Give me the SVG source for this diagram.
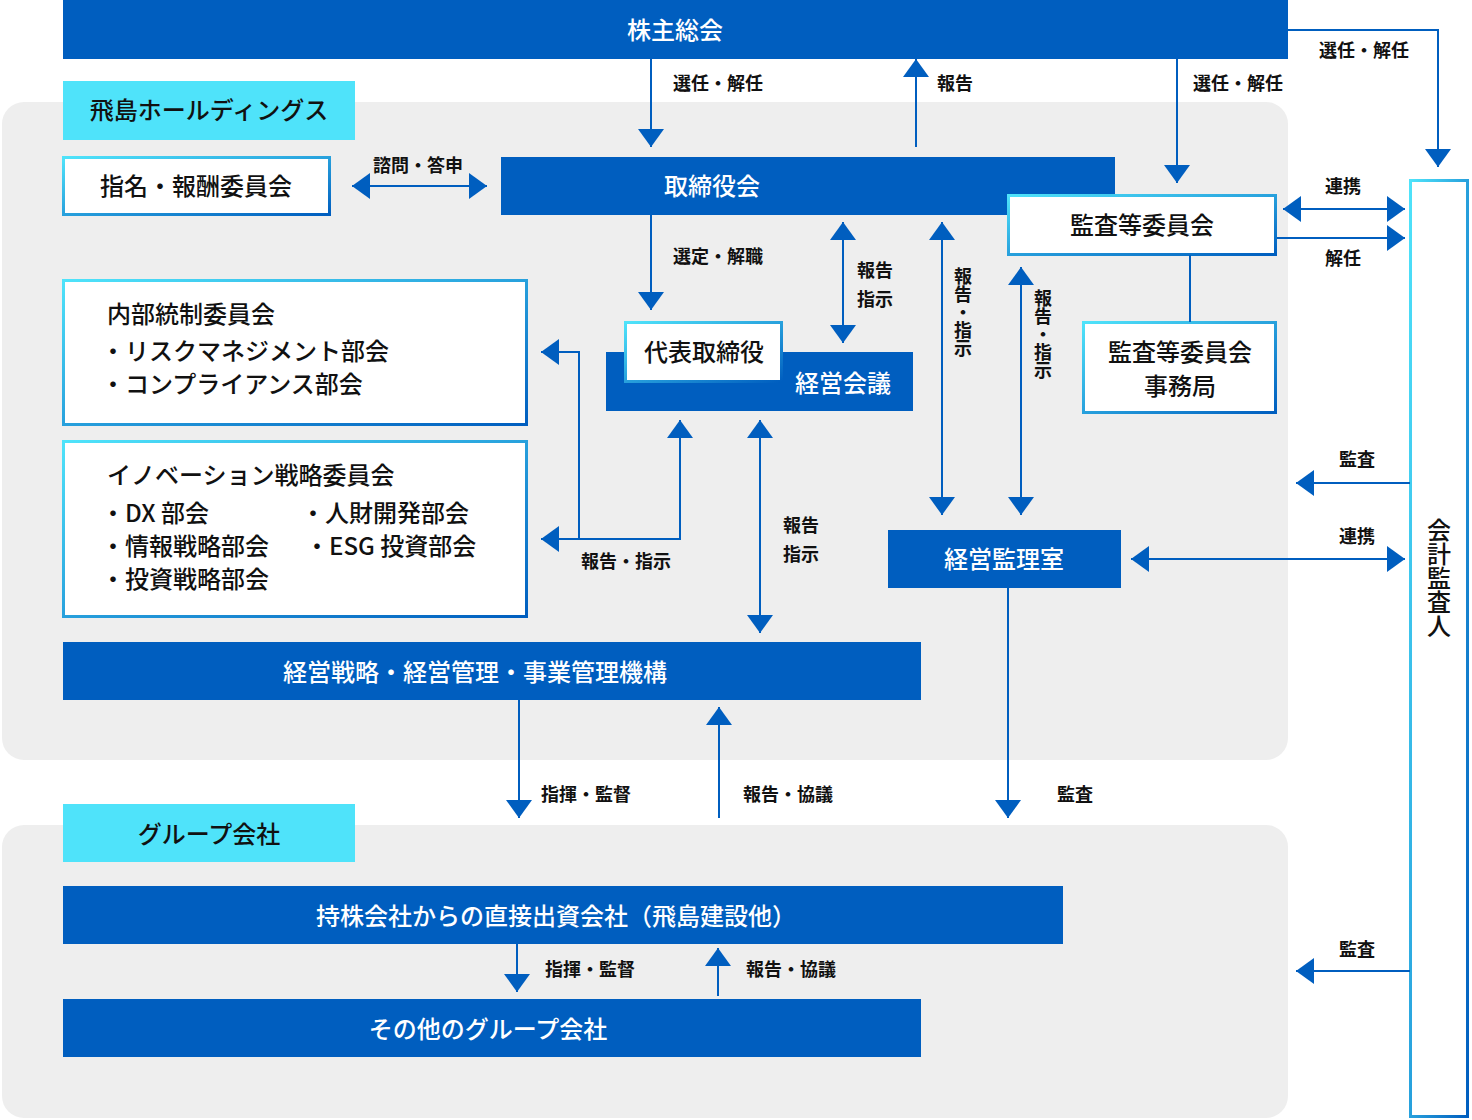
<svg xmlns="http://www.w3.org/2000/svg" width="1472" height="1120" viewBox="0 0 1472 1120">
<defs>
<linearGradient id="gb" x1="0" y1="0" x2="1" y2="1"><stop offset="0" stop-color="#4fe3fa"/><stop offset="1" stop-color="#005ebf"/></linearGradient>
<marker id="a" markerUnits="userSpaceOnUse" markerWidth="20" markerHeight="28" refX="18" refY="13" orient="auto-start-reverse" viewBox="0 0 20 26"><path d="M0,0 L18,13 L0,26 z" fill="#005ebf"/></marker>
</defs>
<style>
text{font-family:"Noto Sans CJK JP","Noto Sans",sans-serif}
.bar{fill:#005ebf}
.wb{fill:#fff;stroke:url(#gb);stroke-width:3}
.tag{fill:#4fe3fa}
.panel{fill:#eeeeee}
.bt{fill:#fff;font-size:24px;font-weight:500;text-anchor:middle}
.kt{fill:#111;font-size:24px;font-weight:500}
.lb{fill:#111;font-size:18px;font-weight:700;text-anchor:middle}
.c line,.c polyline{stroke:#005ebf;stroke-width:2;fill:none}
.e{marker-end:url(#a)}
.s{marker-start:url(#a)}
</style>
<rect class="panel" x="2" y="102" width="1286" height="658" rx="22"/>
<rect class="panel" x="2" y="825" width="1286" height="293" rx="22"/>

<g id="agm"><rect class="bar" x="63" y="0" width="1225" height="59"/><text class="bt" x="675" y="39">株主総会</text></g>
<g id="tag1"><rect class="tag" x="63" y="81" width="292" height="59"/><text class="kt" x="209" y="119" text-anchor="middle">飛島ホールディングス</text></g>
<g id="nom"><rect class="wb" x="63.5" y="157.5" width="266" height="57"/><text class="kt" x="196" y="195" text-anchor="middle">指名・報酬委員会</text></g>
<g id="board"><rect class="bar" x="501" y="157" width="614" height="58"/><text class="bt" x="712" y="195">取締役会</text></g>
<g id="audit"><rect class="wb" x="1008.5" y="195.5" width="267" height="59"/><text class="kt" x="1142" y="234" text-anchor="middle">監査等委員会</text></g>
<g id="auditoff"><rect class="wb" x="1083.5" y="322.5" width="192" height="90"/><text class="kt" x="1180" y="361" text-anchor="middle">監査等委員会</text><text class="kt" x="1180" y="395" text-anchor="middle">事務局</text></g>
<g id="extaud"><rect class="wb" x="1410.5" y="180.5" width="57" height="936"/><text class="kt" x="1439" y="578" text-anchor="middle" style="writing-mode:vertical-rl" transform="">会計監査人</text></g>
<g id="mgmt"><rect class="bar" x="606" y="352" width="307" height="59"/><text class="bt" x="843" y="392">経営会議</text></g>
<g id="rep"><rect class="wb" x="625.5" y="322.5" width="156" height="59"/><text class="kt" x="704" y="361" text-anchor="middle">代表取締役</text></g>
<g id="ic"><rect class="wb" x="63.5" y="280.5" width="463" height="144"/>
<text class="kt" x="107" y="323">内部統制委員会</text><text class="kt" x="101" y="360">・リスクマネジメント部会</text><text class="kt" x="101" y="393">・コンプライアンス部会</text></g>
<g id="inno"><rect class="wb" x="63.5" y="441.5" width="463" height="175"/>
<text class="kt" x="107" y="484">イノベーション戦略委員会</text>
<text class="kt" x="101" y="522">・DX 部会</text><text class="kt" x="101" y="555">・情報戦略部会</text><text class="kt" x="101" y="588">・投資戦略部会</text>
<text class="kt" x="301" y="522">・人財開発部会</text><text class="kt" x="305" y="555">・ESG 投資部会</text></g>
<g id="kansa"><rect class="bar" x="888" y="530" width="233" height="58"/><text class="bt" x="1004" y="568">経営監理室</text></g>
<g id="strat"><rect class="bar" x="63" y="642" width="858" height="58"/><text class="bt" x="475" y="681">経営戦略・経営管理・事業管理機構</text></g>
<g id="tag2"><rect class="tag" x="63" y="804" width="292" height="58"/><text class="kt" x="209" y="843" text-anchor="middle">グループ会社</text></g>
<g id="sub"><rect class="bar" x="63" y="886" width="1000" height="58"/><text class="bt" x="556" y="925">持株会社からの直接出資会社（飛島建設他）</text></g>
<g id="other"><rect class="bar" x="63" y="999" width="858" height="58"/><text class="bt" x="488" y="1038">その他のグループ会社</text></g>

<g id="connectors" class="c">
<polyline class="e" points="1288,30 1438,30 1438,167"/>
<line class="e" x1="651" y1="59" x2="651" y2="147"/>
<line class="e" x1="916" y1="147" x2="916" y2="59"/>
<line class="e" x1="1177" y1="59" x2="1177" y2="183"/>
<line class="e s" x1="352" y1="186" x2="487" y2="186"/>
<line class="e s" x1="1283" y1="209" x2="1405" y2="209"/>
<line class="e" x1="1277" y1="238" x2="1405" y2="238"/>
<line x1="1190" y1="255" x2="1190" y2="322"/>
<line class="e" x1="651" y1="215" x2="651" y2="310"/>
<line class="e s" x1="843" y1="222" x2="843" y2="343"/>
<line class="e s" x1="942" y1="222" x2="942" y2="515"/>
<line class="e s" x1="1021" y1="267" x2="1021" y2="515"/>
<polyline class="e s" points="680,420 680,539 541,539"/>
<polyline class="e" points="579,539 579,352 541,352"/>
<line class="e s" x1="760" y1="420" x2="760" y2="633"/>
<line class="e s" x1="1131" y1="559" x2="1405" y2="559"/>
<line class="e" x1="1410" y1="483" x2="1296" y2="483"/>
<line class="e" x1="519" y1="700" x2="519" y2="818"/>
<line class="e" x1="719" y1="818" x2="719" y2="707"/>
<line class="e" x1="1008" y1="588" x2="1008" y2="818"/>
<line class="e" x1="517" y1="944" x2="517" y2="992"/>
<line class="e" x1="718" y1="996" x2="718" y2="948"/>
<line class="e" x1="1410" y1="971" x2="1296" y2="971"/>
</g>
<g id="labels">
<text class="lb" x="718" y="90">選任・解任</text>
<text class="lb" x="955" y="90">報告</text>
<text class="lb" x="1238" y="90">選任・解任</text>
<text class="lb" x="1364" y="57">選任・解任</text>
<text class="lb" x="418" y="172">諮問・答申</text>
<text class="lb" x="1343" y="193">連携</text>
<text class="lb" x="1343" y="265">解任</text>
<text class="lb" x="718" y="263">選定・解職</text>
<text class="lb" x="875" y="277">報告</text>
<text class="lb" x="875" y="306">指示</text>
<text class="lb" x="963" y="312" style="writing-mode:vertical-rl">報告・指示</text>
<text class="lb" x="1043" y="334" style="writing-mode:vertical-rl">報告・指示</text>
<text class="lb" x="626" y="568">報告・指示</text>
<text class="lb" x="801" y="532">報告</text>
<text class="lb" x="801" y="561">指示</text>
<text class="lb" x="1357" y="466">監査</text>
<text class="lb" x="1357" y="543">連携</text>
<text class="lb" x="586" y="801">指揮・監督</text>
<text class="lb" x="788" y="801">報告・協議</text>
<text class="lb" x="1075" y="801">監査</text>
<text class="lb" x="590" y="976">指揮・監督</text>
<text class="lb" x="791" y="976">報告・協議</text>
<text class="lb" x="1357" y="956">監査</text>
</g>
</svg>
